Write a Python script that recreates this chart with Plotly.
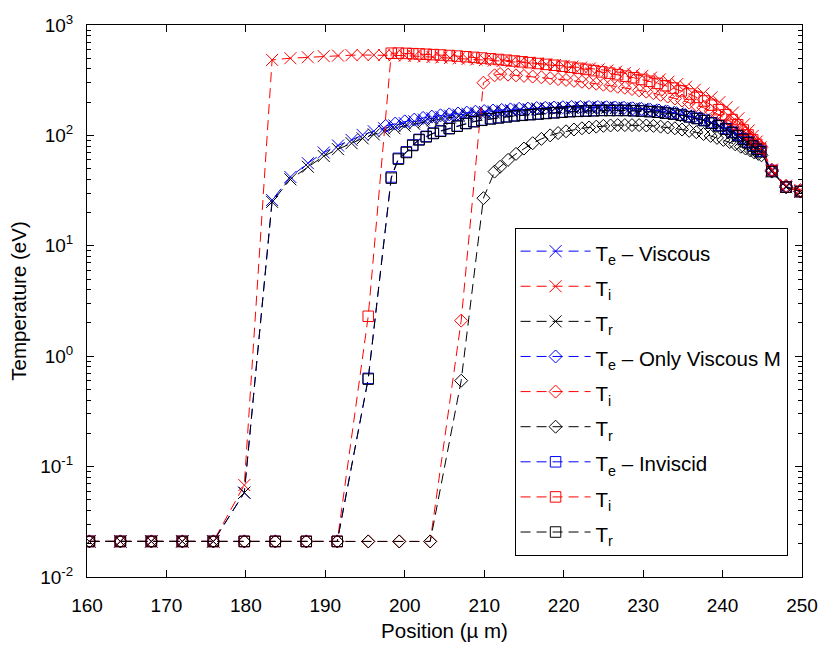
import plotly.graph_objects as go

# ---------------- data ----------------
# Viscous case (x markers)
x_visc = [160.3, 164.2, 168.1, 172.0, 175.9, 179.8, 183.3, 185.6, 187.8, 189.8, 191.6, 193.3, 194.7, 196.1,
          197.4, 198.7, 200.0, 201.2, 202.4, 203.5, 204.6, 205.7, 206.8, 207.9, 209.0, 210.1, 211.2, 212.3,
          213.4, 214.5, 215.6, 216.7, 217.8, 218.9, 220.0, 221.1, 222.2, 223.3, 224.4, 225.5, 226.6, 227.7,
          228.8, 229.9, 231.0, 232.1, 233.2, 234.3, 235.4, 236.5, 237.6, 238.6, 239.6, 240.5, 241.3, 242.0,
          242.7, 243.3, 243.8, 244.3, 244.8, 246.2, 248.0, 249.8]
te_visc = [0.021, 0.021, 0.021, 0.021, 0.021, 0.058, 26, 42, 56, 70, 81, 91, 101, 109,
           116, 123, 129, 134, 139, 143, 147, 151, 154, 157, 160, 163, 165, 167,
           169, 171, 173, 175, 176, 177, 178, 179, 180, 180, 180, 180, 179, 178,
           176, 174, 171, 167, 163, 158, 152, 146, 139, 131, 123, 115, 107, 100,
           93, 87, 82, 77, 72, 48, 34, 31]
ti_visc = [0.021, 0.021, 0.021, 0.021, 0.021, 0.068, 483, 500, 510, 522, 528, 533, 535, 535,
           534, 532, 528, 523, 518, 513, 508, 503, 498, 493, 487, 481, 476, 471,
           466, 460, 454, 448, 441, 434, 427, 420, 412, 404, 396, 387, 378, 368,
           357, 346, 334, 321, 307, 292, 276, 259, 240, 221, 200, 180, 161, 143,
           126, 111, 99, 88, 78, 49, 35, 32]
tr_visc = [0.021, 0.021, 0.021, 0.021, 0.021, 0.058, 25, 40, 52, 65, 75, 85, 94, 102,
           109, 116, 122, 127, 132, 137, 141, 145, 149, 152, 155, 158, 161, 163,
           165, 168, 170, 172, 174, 175, 176, 177, 178, 178, 178, 178, 177, 176,
           174, 172, 169, 165, 161, 156, 150, 144, 137, 129, 121, 113, 105, 98,
           92, 86, 81, 76, 71, 47, 34, 31]

# Only Viscous M case (diamonds)
x_ovm = [160.3, 164.2, 168.1, 172.0, 175.9, 179.8, 183.7, 187.6, 191.5, 195.4, 199.3, 203.2, 207.1,
         209.9, 211.3, 212.0, 213.0, 214.0, 215.0, 216.1, 217.2, 218.3, 219.3, 220.3, 221.3, 222.3,
         223.2, 224.1, 225.0, 225.9, 226.8, 227.7, 228.6, 229.5, 230.4, 231.3, 232.2, 233.1, 234.0,
         234.9, 235.8, 236.7, 237.6, 238.5, 239.3, 240.1, 240.9, 241.6, 242.3, 242.9, 243.5, 244.0,
         244.5, 244.9, 246.2, 248.0, 249.8]
ti_ovm = [0.021, 0.021, 0.021, 0.021, 0.021, 0.021, 0.021, 0.021, 0.021, 0.021, 0.021, 0.021, 2.1,
          300, 350, 360, 355, 350, 346, 341, 336, 330, 324, 318, 312, 306,
          300, 294, 288, 282, 276, 270, 263, 256, 249, 241, 233, 225, 216,
          207, 198, 188, 178, 167, 157, 146, 135, 125, 115, 106, 97, 90,
          83, 78, 49, 35, 32]
tr_ovm = [0.021, 0.021, 0.021, 0.021, 0.021, 0.021, 0.021, 0.021, 0.021, 0.021, 0.021, 0.021, 0.6,
          27, 47, 52, 60, 68, 76, 85, 93, 100, 105, 109, 113, 116,
          118, 120, 122, 123, 124, 124, 124, 124, 123, 122, 120, 118, 116,
          113, 110, 107, 103, 99, 95, 91, 87, 83, 79, 76, 73, 70,
          68, 66, 47, 34, 31]
x_ovm_te = [197.6, 198.8, 200.0, 201.2, 202.3, 203.4, 204.5, 205.6, 206.7, 207.8, 208.9, 210.0, 211.1,
            212.2, 213.3, 214.4, 215.5, 216.6, 217.7, 218.8, 219.9, 221.0, 222.1, 223.2, 224.3, 225.4,
            226.5, 227.6, 228.7, 229.8, 230.9, 232.0, 233.1, 234.2, 235.3, 236.4, 237.5, 238.5, 239.5,
            240.4, 241.2, 241.9, 242.6, 243.2, 243.7, 244.2, 244.7, 246.2, 248.0, 249.8]
te_ovm = [122, 128, 134, 139, 144, 148, 152, 155, 158, 161, 164, 166, 168,
          170, 172, 174, 175, 177, 178, 179, 180, 181, 181, 181, 181, 180,
          179, 178, 176, 174, 171, 168, 164, 159, 153, 147, 140, 132, 124,
          116, 108, 101, 94, 88, 83, 78, 73, 48, 34, 31]

# Inviscid case (squares)
x_inv = [160.3, 164.2, 168.1, 172.0, 175.9, 179.8, 183.7, 187.6, 191.5, 195.4, 198.3, 199.2, 200.2,
         201.0, 201.8, 202.7, 203.6, 204.5, 205.6, 206.6, 207.7, 208.7, 209.7, 210.8, 211.8, 212.8,
         213.8, 214.8, 215.8, 216.8, 217.8, 218.8, 219.8, 220.8, 221.8, 222.8, 223.8, 224.8, 225.8,
         226.8, 227.8, 228.8, 229.8, 230.8, 231.8, 232.8, 233.8, 234.8, 235.8, 236.8, 237.7, 238.6,
         239.5, 240.4, 241.2, 241.9, 242.6, 243.2, 243.8, 244.3, 244.8, 246.2, 248.0, 249.8]
te_inv = [0.021, 0.021, 0.021, 0.021, 0.021, 0.021, 0.021, 0.021, 0.021, 0.63, 42, 62, 71,
          82, 92, 98, 105, 110, 116, 122, 129, 134, 138, 142, 145, 148,
          151, 153, 155, 157, 159, 161, 163, 165, 166, 167, 168, 169, 169,
          169, 169, 168, 167, 165, 163, 160, 157, 153, 148, 143, 137, 130,
          123, 115, 107, 100, 93, 87, 81, 76, 72, 48, 34, 31]
ti_inv = [0.021, 0.021, 0.021, 0.021, 0.021, 0.021, 0.021, 0.021, 0.021, 2.3, 555, 556, 553,
          550, 547, 543, 539, 535, 529, 523, 516, 509, 502, 494, 487, 480,
          472, 464, 456, 448, 440, 432, 423, 414, 405, 396, 386, 376, 366,
          355, 344, 333, 321, 309, 296, 282, 268, 253, 237, 221, 205, 188,
          171, 154, 139, 125, 112, 101, 91, 83, 76, 48, 34, 31]
tr_inv = [0.021, 0.021, 0.021, 0.021, 0.021, 0.021, 0.021, 0.021, 0.021, 0.62, 41, 61, 70,
          81, 91, 97, 104, 109, 115, 121, 128, 133, 137, 141, 144, 147,
          150, 152, 154, 156, 158, 160, 162, 164, 165, 166, 167, 168, 168,
          168, 168, 167, 166, 164, 162, 159, 156, 152, 147, 142, 136, 129,
          122, 114, 106, 99, 92, 86, 80, 75, 71, 47, 34, 31]

names = ["T<sub>e</sub> \u2013 Viscous", "T<sub>i</sub>", "T<sub>r</sub>",
         "T<sub>e</sub> \u2013 Only Viscous M", "T<sub>i</sub>", "T<sub>r</sub>",
         "T<sub>e</sub> \u2013 Inviscid", "T<sub>i</sub>", "T<sub>r</sub>"]

BLUE, RED, BLACK = "#0000ff", "#ff0000", "#000000"

series = [
    (x_visc, te_visc, BLUE, "x-thin", 12),
    (x_visc, ti_visc, RED, "x-thin", 12),
    (x_visc, tr_visc, BLACK, "x-thin", 12),
    (x_ovm_te, te_ovm, BLUE, "diamond-open", 10),
    (x_ovm, ti_ovm, RED, "diamond-open", 10),
    (x_ovm, tr_ovm, BLACK, "diamond-open", 10),
    (x_inv, te_inv, BLUE, "square-open", 10.5),
    (x_inv, ti_inv, RED, "square-open", 10.5),
    (x_inv, tr_inv, BLACK, "square-open", 10.5),
]

fig = go.Figure()
for (xs, ys, col, sym, sz), nm in zip(series, names):
    fig.add_trace(go.Scatter(
        x=xs, y=ys, name='<span style="font-size:20.5px">' + nm + '</span>',
        mode="lines+markers",
        line=dict(color=col, width=1, dash="10px,6px"),
        marker=dict(symbol=sym, size=sz, color=col, line=dict(color=col, width=1)),
    ))

FONT = "Arial, Liberation Sans, Helvetica, sans-serif"
ytickvals = [0.01, 0.1, 1, 10, 100, 1000]
yticktext = ["10<sup>-2</sup>", "10<sup>-1</sup>", "10<sup>0</sup>", "10<sup>1</sup>",
             "10<sup>2</sup>", "10<sup>3</sup>"]
yminor = [m * 10 ** e for e in range(-2, 3) for m in range(2, 10)]

fig.update_layout(
    width=830, height=650,
    margin=dict(l=87, r=17, t=18, b=73),
    paper_bgcolor="white", plot_bgcolor="white",
    font=dict(family=FONT, size=19, color="black"),
    showlegend=True,
    legend=dict(x=0.598, y=0.633, xanchor="left", yanchor="top",
                bordercolor="black", borderwidth=1, bgcolor="white",
                font=dict(size=24.7), itemwidth=70, tracegroupgap=0),
    xaxis=dict(range=[160, 250], dtick=10, tick0=160, showgrid=False, zeroline=False,
               showline=True, linecolor="black", linewidth=1, mirror="ticks",
               ticks="inside", ticklen=7, tickcolor="black", ticklabelstandoff=11,
               title=dict(text="Position (\u00b5 m)", standoff=8, font=dict(size=20.5))),
    yaxis=dict(type="log", range=[-2, 3], showgrid=False, zeroline=False,
               showline=True, linecolor="black", linewidth=1, mirror="ticks",
               ticks="inside", ticklen=7, tickcolor="black", ticklabelstandoff=9,
               tickvals=ytickvals, ticktext=yticktext,
               minor=dict(tickvals=yminor, ticks="inside", ticklen=4, tickcolor="black"),
               title=dict(text="Temperature (eV)", standoff=8, font=dict(size=20.5))),
    yaxis2=dict(type="log", range=[-2, 3], overlaying="y", side="right", anchor="x",
                showgrid=False, zeroline=False, showline=False, showticklabels=False,
                ticks="inside", ticklen=7, tickcolor="black", tickvals=ytickvals,
                minor=dict(tickvals=yminor, ticks="inside", ticklen=4, tickcolor="black")),
)

fig.write_html("out.html")
